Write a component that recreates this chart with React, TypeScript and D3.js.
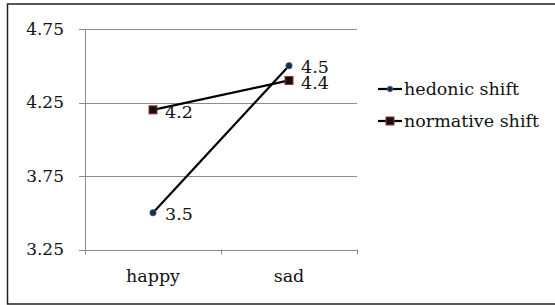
import React from 'react';
import * as d3 from 'd3';

const categories = ['happy', 'sad'];
const hedonic = [3.5, 4.5];
const normative = [4.2, 4.4];
const yTicks = [3.25, 3.75, 4.25, 4.75];

const width = 555;
const height = 305;
const plotLeft = 85;
const plotRight = 357;
const plotTop = 29;
const plotBottom = 249.5;
const font = 'DejaVu Serif';
const fs = 17.5;

const App = () => {
  const x = d3.scaleBand().domain(categories).range([plotLeft, plotRight]);
  const y = d3.scaleLinear().domain([3.25, 4.75]).range([plotBottom, plotTop]);
  const cx = (c: string) => (x(c) as number) + x.bandwidth() / 2;
  const line = d3
    .line<number>()
    .x((d, i) => cx(categories[i]))
    .y((d) => y(d));

  return (
    <svg width={width} height={height} style={{ position: 'absolute', left: 0, top: 0 }}>
      <rect x={0} y={0} width={width} height={height} fill="#fff" />
      <rect x={7.5} y={4} width={560} height={300} fill="#fff" stroke="#222" strokeWidth={1.5} />

      {/* gridlines + y ticks */}
      {yTicks.map((t) => (
        <g key={t}>
          <line x1={79} x2={plotRight} y1={Math.round(y(t)) + 0.5} y2={Math.round(y(t)) + 0.5} stroke="#8c8c8c" />
          <text x={64} y={y(t)} dy="0.35em" textAnchor="end" fontFamily={font} fontSize={fs - 0.5} fill="#111">
            {t.toFixed(2)}
          </text>
        </g>
      ))}
      <line x1={plotLeft + 0.5} x2={plotLeft + 0.5} y1={plotTop} y2={plotBottom + 5} stroke="#8c8c8c" />
      {[plotLeft + x.bandwidth(), plotRight].map((v) => (
        <line key={v} x1={v + 0.5} x2={v + 0.5} y1={plotBottom} y2={plotBottom + 5} stroke="#8c8c8c" />
      ))}

      {categories.map((c) => (
        <text key={c} x={cx(c)} y={276} dy="0.35em" textAnchor="middle" fontFamily={font} fontSize={fs} fill="#111">
          {c}
        </text>
      ))}

      {/* series */}
      <path d={line(hedonic) as string} fill="none" stroke="#000" strokeWidth={2.2} />
      <path d={line(normative) as string} fill="none" stroke="#000" strokeWidth={2.2} />
      {hedonic.map((v, i) => (
        <g key={'h' + i}>
          <circle cx={cx(categories[i])} cy={y(v)} r={3.2} fill="#1a2a4a" stroke="#4a6a9a" strokeWidth={0.8} />
          <text x={cx(categories[i]) + 12} y={y(v) + 1} dy="0.35em" fontFamily={font} fontSize={fs} fill="#111">
            {v.toFixed(1)}
          </text>
        </g>
      ))}
      {normative.map((v, i) => (
        <g key={'n' + i}>
          <rect x={cx(categories[i]) - 4} y={y(v) - 4} width={8} height={8} fill="#111" stroke="#9b2a2a" strokeWidth={1} />
          <text x={cx(categories[i]) + 12} y={y(v) + 2} dy="0.35em" fontFamily={font} fontSize={fs} fill="#111">
            {v.toFixed(1)}
          </text>
        </g>
      ))}

      {/* legend */}
      <g>
        <line x1={378} x2={402} y1={89} y2={89} stroke="#000" strokeWidth={2.2} />
        <circle cx={390} cy={89} r={2.8} fill="#1a2a4a" stroke="#4a6a9a" strokeWidth={0.8} />
        <text x={404} y={89} dy="0.35em" fontFamily={font} fontSize={fs} fill="#111">hedonic shift</text>
        <line x1={378} x2={402} y1={121} y2={121} stroke="#000" strokeWidth={2.2} />
        <rect x={386} y={117} width={8} height={8} fill="#111" stroke="#9b2a2a" strokeWidth={1} />
        <text x={404} y={121} dy="0.35em" fontFamily={font} fontSize={fs} fill="#111">normative shift</text>
      </g>
    </svg>
  );
};

export default App;
